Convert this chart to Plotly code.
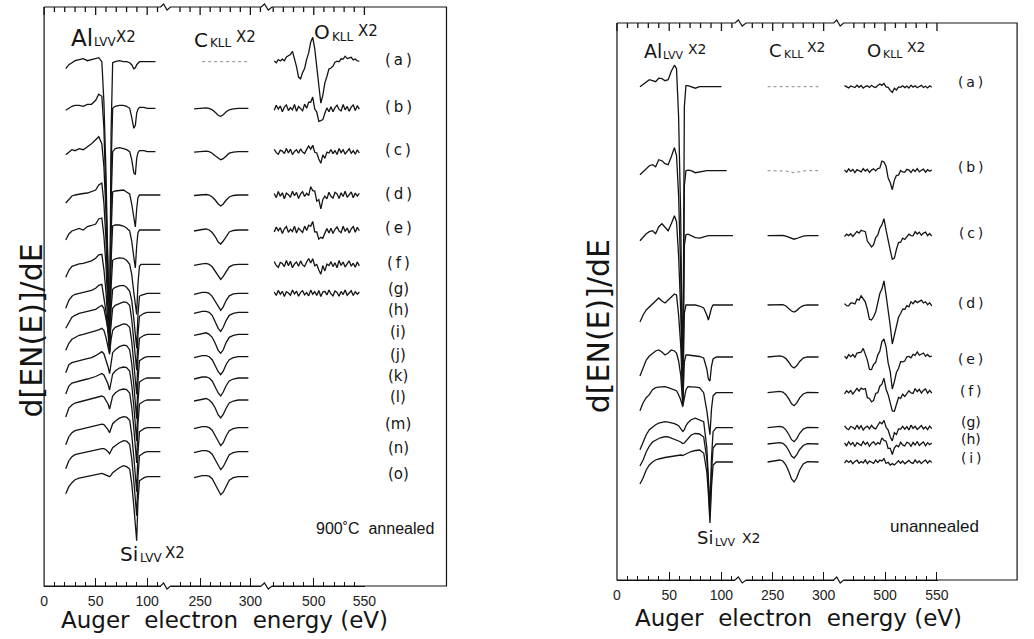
import math
import plotly.graph_objects as go

W, H = 1034, 639
INK = "#141414"

# ======================= DATA =======================
# ---- left panel: 900 C annealed, spectra (a)..(o) ----
L_labels = ["(\u2009a\u2009)", "(\u2009b\u2009)", "(\u2009c\u2009)", "(\u2009d\u2009)", "(\u2009e\u2009)",
            "(\u2009f\u2009)", "(g)", "(h)", "(i)", "(j)", "(k)", "(l)", "(m)", "(n)", "(o)"]
# Al/Si LVV region (eV) and signal of each spectrum (x2, arbitrary units)
L_alsi_E = [21, 24, 27, 30, 34, 38, 42, 46, 50, 53, 56, 58, 60, 62, 63.5, 65, 66.5, 69, 73, 77,
            80, 83, 85, 87, 88.5, 89.8, 91, 92.5, 94, 97, 100, 104, 108, 113]
L_alsi = [
    [-7, -3, -1, 1, 2, 3, 1, 2, 3, 4, 0, -40, -110, -200, -283, -70, -1, 0, 1, 0, 0, -1, -3, -7, -6, -3, -1.5, 0, 0, 0, 0, 0, 0, None],
    [-2, 0, 2, 3, 3, 2, 4, 4, 8, 14, 12, -20, -80, -160, -240, -60, 0, 2, 3, 3, 2, 0, -9, -20, -17, -5, -1, 1, 1, 1, 0, 0, 0, None],
    [-3, 0, 2, 1, 3, 2, 5, 8, 12, 15, 8, -15, -60, -130, -195, -50, 0, 3, 4, 3, 2, 0, -8, -21, -23, -7, -1, 1, 1, 1, 0, 0, 0, None],
    [-8, -4, -1, 0, 1, 1.5, 2, 3.5, 5, 10, 12, -8, -45, -105, -155, -38, 3, 4, 4.5, 5, 3, 1, -9, -22, -32, -14, -3, 0, 0, 0, 0, 0, 0, 0],
    [-10, -4, -1, 0, 1.5, 0, 3.5, 4.5, 6, 11, 12, -6, -35, -80, -120, -30, 4, 5, 5, 4, 2, -1, -11, -27, -38, -16, -3, 0, 0, 0, 0, 0, 0, 0],
    [-13, -6, -2, -1, 0.5, 1, 2.5, 3.5, 6, 9.5, 10, -5, -27, -60, -88, -22, 4, 5.5, 6.5, 6, 4, 0, -10, -28, -42, -50, -20, -2, 0, 0, 0, 0, 0, 0],
    [-15, -7, -3, -1, 0, 1, 2, 3, 5, 8, 9, -3, -18, -40, -59, -15, 4, 6, 7.5, 8, 6, 2, -7, -25, -41, -55, -22, -3, -2, -1, 0, 0, 0, 0],
    [-16, -10, -5, -3, -1, 0, 1, 2, 3, 5, 7, 4, -5, -17, -28, -8, 4, 7, 9, 10.5, 10, 7, -7, -26, -44, -58, -23, -4, -3, -1, 0, 0, 0, 0],
    [-16, -9, -5, -3, -1, 0, 1, 2, 3, 4.5, 6, 4, -3, -12, -20, -5, 4, 7, 9, 10.5, 10, 7, -7, -27, -45, -60, -24, -4, -3, -1, 0, 0, 0, 0],
    [-16, -8, -6, -5, -4, -3, -2, -1, 1, 3, 5, 3, -3, -10, -17, -4, 4, 7, 10, 11.5, 11, 7, -7, -28, -46, -62, -25, -4, -3, -1, 0, 0, 0, 0],
    [-16, -8, -5, -4, -3, -2, -1, 0, 1.5, 3, 4.5, 3, -1, -6, -12, -3, 4, 7, 10, 11, 10.5, 7, -7, -28, -47, -63, -25, -4, -3, -1, 0, 0, 0, 0],
    [-17, -8, -5, -3, -2, -1, 0, 1, 2, 3, 4, 3, 0, -4, -9, -2, 4, 7, 10, 11, 10.5, 7, -7, -28, -47, -63, -25, -4, -3, -1, 0, 0, 0, 0],
    [-17, -9, -5, -3, -2, -1, 0, 1, 2, 3, 3.5, 3, 1, -2, -5, 0, 4, 6.5, 9.5, 11, 10.5, 7.5, -7, -29, -48, -64, -26, -4, -3, -1, 0, 0, 0, 0],
    [-17, -9, -5, -3, -2, -1, 0, 1, 2, 2.5, 3, 3, 2, 0, -2, 1, 4, 6, 9, 11, 10.5, 7.5, -7, -29, -48, -64, -26, -4, -3, -1, 0, 0, 0, 0],
    [-17, -10, -6, -3, -1.5, -0.5, 0.5, 1.5, 2.5, 3, 3.3, 2.5, 1.5, 0.5, 0, 1.5, 4, 6, 9, 11, 10, 7.7, -7, -29, -48, -64, -26, -4, -3, -1, 0, 0, 0, 0],
]
# C KLL region
L_c_E = [244, 248, 252, 256, 259, 262, 265, 268, 270.5, 273, 276, 279, 283, 288, 298]
L_c = [
    [None, None, 0, 0, 0, 0, 0, 0, 0, 0, 0, 0, 0, 0, 0],
    [-0.5, 0, 0.5, 0.5, 0, -1.5, -4, -7, -8, -6.5, -3.5, -1.5, -0.5, 0, 0],
    [-0.5, 0, 0.5, 0.5, 0, -1.5, -4, -6.5, -8, -7, -4, -1.5, -0.5, 0, 0],
    [-0.5, 0, 0.5, 0.5, 0, -2, -5, -9, -11, -9, -5, -2, -0.5, 0, 0],
    [-1, 0, 0.5, 1, 0, -2.5, -6.5, -12, -14, -11, -6, -2, -0.5, 0, 0],
    [-1, 0, 0.5, 1, 0, -2.5, -7, -12.5, -15, -12, -6.5, -2.5, -0.5, 0, 0],
    [-1, 0, 1, 1, 0, -3, -8, -14, -17, -13.5, -7, -2.5, -0.5, 0, 0],
    [-1, 0, 1, 1, 0, -3, -9, -16, -19, -15, -8, -3, -1, 0, 0],
    [-1, 0, 1, 1.5, 0, -3, -9, -16, -19, -15.5, -8, -3, -1, 0, 0],
    [-1, 0, 1, 1, 0, -3, -8.5, -15, -18, -14.5, -7.5, -3, -1, 0, 0],
    [-1, 0, 1, 1, 0, -3, -8.5, -15, -18, -14, -7.5, -3, -1, 0, 0],
    [-1, 0, 1, 1.5, 0, -3, -8, -15, -18, -14.5, -8, -3, -1, 0, 0],
    [-1, 0, 1, 1, 0, -2.5, -8, -14.5, -18, -15, -8, -3, -1, 0, 0],
    [-1, 0, 1, 1, 0, -2.5, -8, -14.5, -18, -15, -8.5, -3, -1, 0, 0],
    [-1, 0, 1, 1, 0.5, -2, -7.5, -14, -18, -15.5, -9, -3.5, -1, 0, 0],
]
# O KLL region: read feature amplitudes + estimated noise level (spectra a..g)
L_o_simple = [0, 15, 10, 10, 10, 8, 0]
L_o_pre = [40, 0, 0, 0, 0, 0, 0]
L_o_noise = [1.5, 3.8, 3.2, 3.8, 3.8, 3.8, 3.2]
L_o_noise_pick = [0, 1, 2, 0, 1, 2, 0]

# ---- right panel: unannealed, spectra (a)..(i) ----
R_labels = ["(\u2009a\u2009)", "(\u2009b\u2009)", "(\u2009c\u2009)", "(\u2009d\u2009)", "(\u2009e\u2009)",
            "(\u2009f\u2009)", "(g)", "(h)", "(\u2009i\u2009)"]
R_alsi_E = [22, 25, 28, 31, 34, 37, 40, 43, 46, 49, 52, 55, 57, 59, 61, 63, 64.5, 66, 68, 71,
            75, 79, 83, 86, 87.5, 89, 90.5, 92, 95, 100, 105, 111]
R_alsi = [
    [0, 2.5, 5, 7, 6, 5, 8.5, 8, 6, 7, 15.5, 21.5, 18, -30, -130, -313, -20, 1, 1, 0, -1.5, 0, 0, 0, 0, 0, 0, 0, 0, 0, None, None],
    [-4, -1, 2, 5, 6, 4, 11, 10, 7, 6, 14, 23, 15, -25, -100, -230, -15, 0, 0.5, 0, -2, -1, 0, 0, 0, 0, 0, 0, 0, 0, 0, None],
    [-5, -1, 2, 4, 5, 2, 9, 12, 9, 5, 12, 20, 14, -20, -75, -165, -10, 1, 1.5, 0, -2, -2.5, -1, 0, 0, 0, 0, 0, 0, 0, 0, 0],
    [-17, -10, -5, -2, 2, 5, 7, 4, 2, 5, 8.5, 11, 10, -10, -40, -95, -8, 0, 0, 0, 0, -1, -3, -10, -15, -9, -3, 0, 0, 0, 0, 0],
    [-19, -10, -3, 1, 4, 6, 7, 5, 2, 4, 7, 6, 4, -4, -18, -48, -5, 2, 2, 1.5, 1, 0.5, -1, -12, -22, -24, -9, -2, 0, 0, 0, 0],
    [-18, -10, -5, -2, 3, 5, 5.5, 6, 6, 5, 4, 3, 2, -2, -7, -14, -4, 3, 6, 6, 5.5, 5, 0, -18, -32, -42, -16, -3, 0, 0, 0, 0],
    [-22, -15, -7, -2, 1, 3, 4.5, 5.5, 6, 5.5, 5, 4, 3, 2, -1, -3.7, -2, 2, 5, 8, 9.5, 8, 6, -20, -45, -80, -30, -4, 0, 0, 0, 0],
    [-22, -16, -8, -2, 2, 4, 5.5, 6.5, 7.3, 7, 6, 5, 4, 3, 2, 0.5, 1, 3, 6, 9, 10.5, 10, 7, -15, -40, -72, -28, -4, 0, 0, 0, 0],
    [-22, -16, -8, -3, 0, 2, 3, 4, 4.5, 5, 5.5, 6, 6.5, 7, 7, 6.5, 7, 8, 9, 10.5, 11.5, 12, 9, -10, -32, -61, -25, -3, 0, 0, 0, 0],
]
R_c_E = [245, 249, 253, 257, 260, 263, 266, 268.5, 271, 273.5, 276.5, 280, 284, 289, 295]
R_c = [
    [0, 0, 0, 0, 0, 0, 0, 0, 0, 0, 0, 0, 0, 0, 0],
    [0, 0, 0.2, 0.2, 0.1, -0.3, -1, -1.7, -2, -1.6, -0.8, -0.2, 0, 0, 0],
    [0, 0.1, 0.3, 0.35, 0.2, -0.5, -1.7, -3, -3.5, -2.8, -1.4, -0.4, 0, 0, 0],
    [0, 0.2, 0.6, 0.7, 0.3, -1, -3.5, -6, -7, -5.6, -2.8, -0.7, 0.1, 0, 0],
    [0, 0.3, 0.9, 1.1, 0.5, -1.6, -5.5, -9.3, -11, -8.8, -4.4, -1.1, 0.2, 0, 0],
    [0, 0.4, 1, 1.3, 0.6, -2, -6.5, -11, -13, -10.4, -5.2, -1.3, 0.3, 0, 0],
    [0, 0.4, 1.1, 1.4, 0.7, -2.1, -7, -12, -14, -11.2, -5.6, -1.4, 0.3, 0, 0],
    [0, 0.4, 1.1, 1.4, 0.7, -2, -7, -12, -14, -11, -5.5, -1.5, 0.3, 0, 0],
    [0, 0.6, 1.6, 2, 1, -3, -10, -17, -20, -16, -8, -2, 0.4, 0, 0],
]
R_o_simple = [5, 17, 0, 0, 0, 0, 12, 8, 3]
R_o_pre = [0, 0, 25, 38, 30, 20, 0, 0, 0]
R_o_noise = [1.5, 2, 2, 2, 2, 2.5, 2.5, 2.5, 2]
R_o_noise_pick = [2, 0, 1, 2, 0, 1, 2, 0, 1]

# ---- O KLL shapes (normalised to the main dip) ----
O_E = [461, 463, 465, 467, 469, 471, 473, 475, 477, 479, 481, 483, 485, 487, 489, 491, 493, 495, 497, 499,
       501, 503, 505, 507, 509, 511, 513, 515, 517, 519, 521, 523, 525, 527, 529, 531, 533, 535, 537, 539,
       541, 543, 545]
O_simple = [0, 0, 0, 0, 0, 0, 0, 0, 0, 0, 0, 0, 0, 0, 0.02, 0.05, 0.1, 0.25, 0.45, 0.55,
            0.2, -0.35, -0.8, -1.0, -0.6, -0.35, -0.2, -0.1, -0.05, 0, 0, 0, 0, 0, 0, 0, 0, 0, 0, 0,
            0, 0, 0]
O_pre = [0, 0, 0.02, 0.03, 0.04, 0.06, 0.1, 0.15, 0.2, 0.22, 0.08, -0.15, -0.35, -0.44, -0.3, -0.15, 0.05, 0.25, 0.45, 0.62,
         0.3, -0.15, -0.55, -1.0, -0.85, -0.55, -0.35, -0.22, -0.15, -0.08, -0.04, 0, 0.03, 0.05, 0.08, 0.1, 0.1, 0.08, 0.08, 0.07,
         0.05, 0.03, 0]
O_noise_A = [0.4, -0.7, 0.9, -0.3, 0.6, -1.0, 0.5, 0.1, -0.6, 1.0, -0.2, 0.7, -0.9, 0.3, 0.8, -0.5, 0.2, -0.8, 1.0, -0.3,
             0.5, -0.7, 0.9, -1.0, 0.4, 0.6, -0.5, 1.0, -0.2, -0.8, 0.7, 0.3, -0.9, 0.6, -0.4, 1.0, -0.6, 0.2, 0.8, -0.7,
             0.5, -0.3, 0.4]
O_noise_B = [-0.5, 0.8, -0.2, 0.6, -0.9, 0.3, 0.9, -0.6, 0.2, -0.4, 1.0, -0.8, 0.5, -0.1, -0.7, 0.9, -0.4, 0.6, -0.2, 0.8,
             -1.0, 0.4, -0.3, 0.7, -0.6, 0.1, 0.9, -0.5, 0.6, -0.9, 0.2, 0.8, -0.3, -0.7, 1.0, -0.4, 0.5, -0.8, 0.3, 0.9,
             -0.6, 0.7, -0.2]
O_noise_C = [0.7, -0.3, -0.8, 0.5, 0.2, -0.6, 1.0, -0.4, 0.8, -0.9, 0.1, 0.6, -0.5, 0.9, -0.2, -0.7, 0.4, 1.0, -0.6, 0.3,
             -0.8, 0.7, 0.2, -0.5, 0.9, -1.0, 0.5, -0.1, 0.8, -0.6, 0.4, -0.9, 1.0, -0.3, 0.6, -0.7, 0.1, 0.9, -0.5, 0.3,
             -0.8, 0.6, -0.4]
O_noises = [O_noise_A, O_noise_B, O_noise_C]

for rows, grid in ((L_alsi, L_alsi_E), (L_c, L_c_E), (R_alsi, R_alsi_E), (R_c, R_c_E)):
    for r in rows:
        assert len(r) == len(grid), (len(r), len(grid))
for s in (O_simple, O_pre, O_noise_A, O_noise_B, O_noise_C):
    assert len(s) == len(O_E)

# ======================= LAYOUT (pixel geometry) =======================
L_base_px = [61.7, 108.3, 151.7, 195, 230, 264.3, 293.3, 312.3, 334.3, 356.7, 378, 400, 427.7, 451.7, 476.7]
R_base_px = [86.7, 170.7, 235.7, 305, 357, 392.7, 427.7, 444, 462]
L_label_px = [60, 107, 150, 194, 228, 263, 289, 310, 332, 355, 376, 397, 424, 448, 474]
R_label_px = [82, 167, 233, 303, 359, 391, 422, 439, 458]
L_frame = dict(L=40.7, R=449, T=7, B=586)
R_frame = dict(L=622, R=1028, T=23, B=580)


def seg(px0, px1, px_ref, e_ref, scale):
    return dict(domain=[px0 / W, px1 / W],
                range=[e_ref + (px0 - px_ref) / scale, e_ref + (px1 - px_ref) / scale])


L_segs = [seg(40.7, 158.9, 40.7, 0, 1.046), seg(169, 261, 199, 250, 1.02), seg(272, 366.7, 314.3, 500, 1.028)]
R_segs = [seg(622, 741.8, 622, 0, 1.06), seg(753, 842, 780, 250, 1.034), seg(852, 948, 894, 500, 1.054)]
L_breaks = [(158.9, 169), (261, 272)]
R_breaks = [(741.8, 753), (842, 852)]

fig = go.Figure()


def add_line(x, y, xa, ya, faint=False):
    fig.add_trace(go.Scatter(
        x=x, y=y, xaxis=xa, yaxis=ya, mode="lines", hoverinfo="skip", showlegend=False,
        line=dict(color="#8a8a8a" if faint else INK, width=1.0 if faint else 1.3,
                  dash="dot" if faint else "solid")))


def shifted(row, off):
    return [None if v is None else off + v for v in row]


LB = L_frame["B"]
for k, row in enumerate(L_alsi):
    off = LB - L_base_px[k]
    add_line(L_alsi_E, shifted(row, off), "x", "y")
    add_line(L_c_E, shifted(L_c[k], off), "x2", "y", faint=(k == 0))
for k in range(len(L_o_simple)):
    off = LB - L_base_px[k]
    nz = O_noises[L_o_noise_pick[k]]
    ys = [off + L_o_simple[k] * O_simple[i] + L_o_pre[k] * O_pre[i] + L_o_noise[k] * nz[i]
          for i in range(len(O_E))]
    add_line(O_E, ys, "x3", "y")

RB = R_frame["B"]
for k, row in enumerate(R_alsi):
    off = RB - R_base_px[k]
    add_line(R_alsi_E, shifted(row, off), "x4", "y2")
    add_line(R_c_E, shifted(R_c[k], off), "x5", "y2", faint=(k <= 1))
    nz = O_noises[R_o_noise_pick[k]]
    ys = [off + R_o_simple[k] * O_simple[i] + R_o_pre[k] * O_pre[i] + R_o_noise[k] * nz[i]
          for i in range(len(O_E))]
    add_line(O_E, ys, "x6", "y2")

TICKFONT = dict(family="Liberation Sans, Arial, sans-serif", size=14, color="#222")


def xax(s, anchor):
    return dict(domain=s["domain"], range=s["range"], anchor=anchor, showgrid=False, zeroline=False,
                showline=True, linecolor=INK, linewidth=1.2,
                ticks="inside", tickmode="linear", tick0=0, dtick=50, ticklen=8,
                tickwidth=1, tickcolor=INK, tickfont=TICKFONT, ticklabelstandoff=2,
                minor=dict(ticks="inside", tickmode="linear", tick0=0, dtick=10, ticklen=4,
                           tickwidth=1, tickcolor=INK, showgrid=False),
                fixedrange=True)


def yax(fr):
    return dict(domain=[1 - fr["B"] / H, 1 - fr["T"] / H], range=[0, fr["B"] - fr["T"]],
                visible=False, fixedrange=True, showgrid=False, zeroline=False)


fig.update_layout(
    width=W, height=H, margin=dict(l=0, r=0, t=0, b=0, pad=0),
    paper_bgcolor="white", plot_bgcolor="rgba(0,0,0,0)", showlegend=False, hovermode=False,
    xaxis=xax(L_segs[0], "y"), xaxis2=xax(L_segs[1], "y"), xaxis3=xax(L_segs[2], "y"),
    xaxis4=xax(R_segs[0], "y2"), xaxis5=xax(R_segs[1], "y2"), xaxis6=xax(R_segs[2], "y2"),
    yaxis=yax(L_frame), yaxis2=yax(R_frame),
)


def P(x, y):
    return f"{x / W:.5f},{1 - y / H:.5f}"


def frame_path(fr, breaks):
    L, R, T, B = fr["L"], fr["R"], fr["T"], fr["B"]
    pts = [(L, T), (L, B)]
    for a, b in breaks:
        d = b - a
        pts += [(a, B), (a + d * 0.3, B - 3), (a + d * 0.65, B + 3), (b, B)]
    pts += [(R, B), (R, T)]
    for a, b in reversed(breaks):
        d = b - a
        pts += [(b, T), (a + d * 0.65, T + 3), (a + d * 0.3, T - 3), (a, T)]
    pts += [(L, T)]
    return "M " + " L ".join(P(*p) for p in pts)


shapes = []
for fr, br in ((L_frame, L_breaks), (R_frame, R_breaks)):
    shapes.append(dict(type="path", path=frame_path(fr, br), xref="paper", yref="paper",
                       line=dict(color=INK, width=1.2), fillcolor="rgba(0,0,0,0)", layer="above"))

# tick marks along the top edge of each frame (every 10 eV, longer every 50 eV)
for fr, segs in ((L_frame, L_segs), (R_frame, R_segs)):
    for s in segs:
        lo, hi = s["range"]
        d0, d1 = s["domain"]
        e = math.ceil(lo / 10) * 10
        while e <= hi:
            xp = d0 + (e - lo) / (hi - lo) * (d1 - d0)
            ln = 8 if e % 50 == 0 else 5
            shapes.append(dict(type="path", xref="paper", yref="paper",
                               path="M " + P(xp * W, fr["T"]) + " L " + P(xp * W, fr["T"] + ln),
                               line=dict(color=INK, width=1.3), layer="above"))
            e += 10
fig.update_layout(shapes=shapes)

ANN = []
TXT = "DejaVu Sans, Verdana, sans-serif"


def note(x, y, text, size=14, xanchor="center", angle=0, family=TXT):
    ANN.append(dict(x=x / W, y=1 - y / H, xref="paper", yref="paper", text=text, showarrow=False,
                    xanchor=xanchor, yanchor="middle", textangle=angle,
                    font=dict(family=family, size=size, color=INK)))


def peak_label(main, sub, xm, ym, sm, xs, ys, ss, xx, yx, sx):
    note(xm, ym, main, size=sm, xanchor="left")
    note(xs, ys, sub, size=ss, xanchor="left")
    note(xx, yx, "X2", size=sx, xanchor="left")


for k, lab in enumerate(L_labels):
    note(400, L_label_px[k], lab, size=15)
for k, lab in enumerate(R_labels):
    note(981, R_label_px[k], lab, size=14)

# left panel peak labels
peak_label("Al", "LVV", 66, 38, 23, 89, 42.5, 12, 112, 37.5, 15)
peak_label("C", "KLL", 191, 39.5, 20, 207, 43.5, 12, 233, 37.5, 15)
peak_label("O", "KLL", 313, 32.5, 20, 331, 36.5, 12, 357, 31, 15)
peak_label("Si", "LVV", 116, 553.5, 20, 136, 558, 12, 161, 552.5, 15)
# right panel peak labels
peak_label("Al", "LVV", 647, 51.5, 19, 667, 55.5, 11, 692, 49, 14)
peak_label("C", "KLL", 774, 50.5, 18, 789, 54.5, 11, 813, 47.5, 14)
peak_label("O", "KLL", 874, 50.5, 18, 890, 54.5, 11, 914, 47.5, 14)
peak_label("Si", "LVV", 701, 537.5, 18, 719, 542, 11, 747, 537.5, 14)

note(376, 528, "900˚C\u00a0\u00a0annealed", size=16, family="Liberation Sans, Arial, sans-serif")
note(944, 526, "unannealed", size=17, family="Liberation Sans, Arial, sans-serif")
note(224, 620, "Auger\u00a0\u00a0electron\u00a0\u00a0energy\u00a0(eV)", size=23)
note(806, 618, "Auger\u00a0\u00a0electron\u00a0\u00a0energy\u00a0(eV)", size=23)
note(27, 331, "d[EN(E)]/dE", size=30, angle=-90)
note(603, 326, "d[EN(E)]/dE", size=30, angle=-90)
fig.update_layout(annotations=ANN)

fig.write_html("out.html", config={"displayModeBar": False, "staticPlot": True},
               post_script="document.body.style.margin='0';document.body.style.overflow='hidden';")
